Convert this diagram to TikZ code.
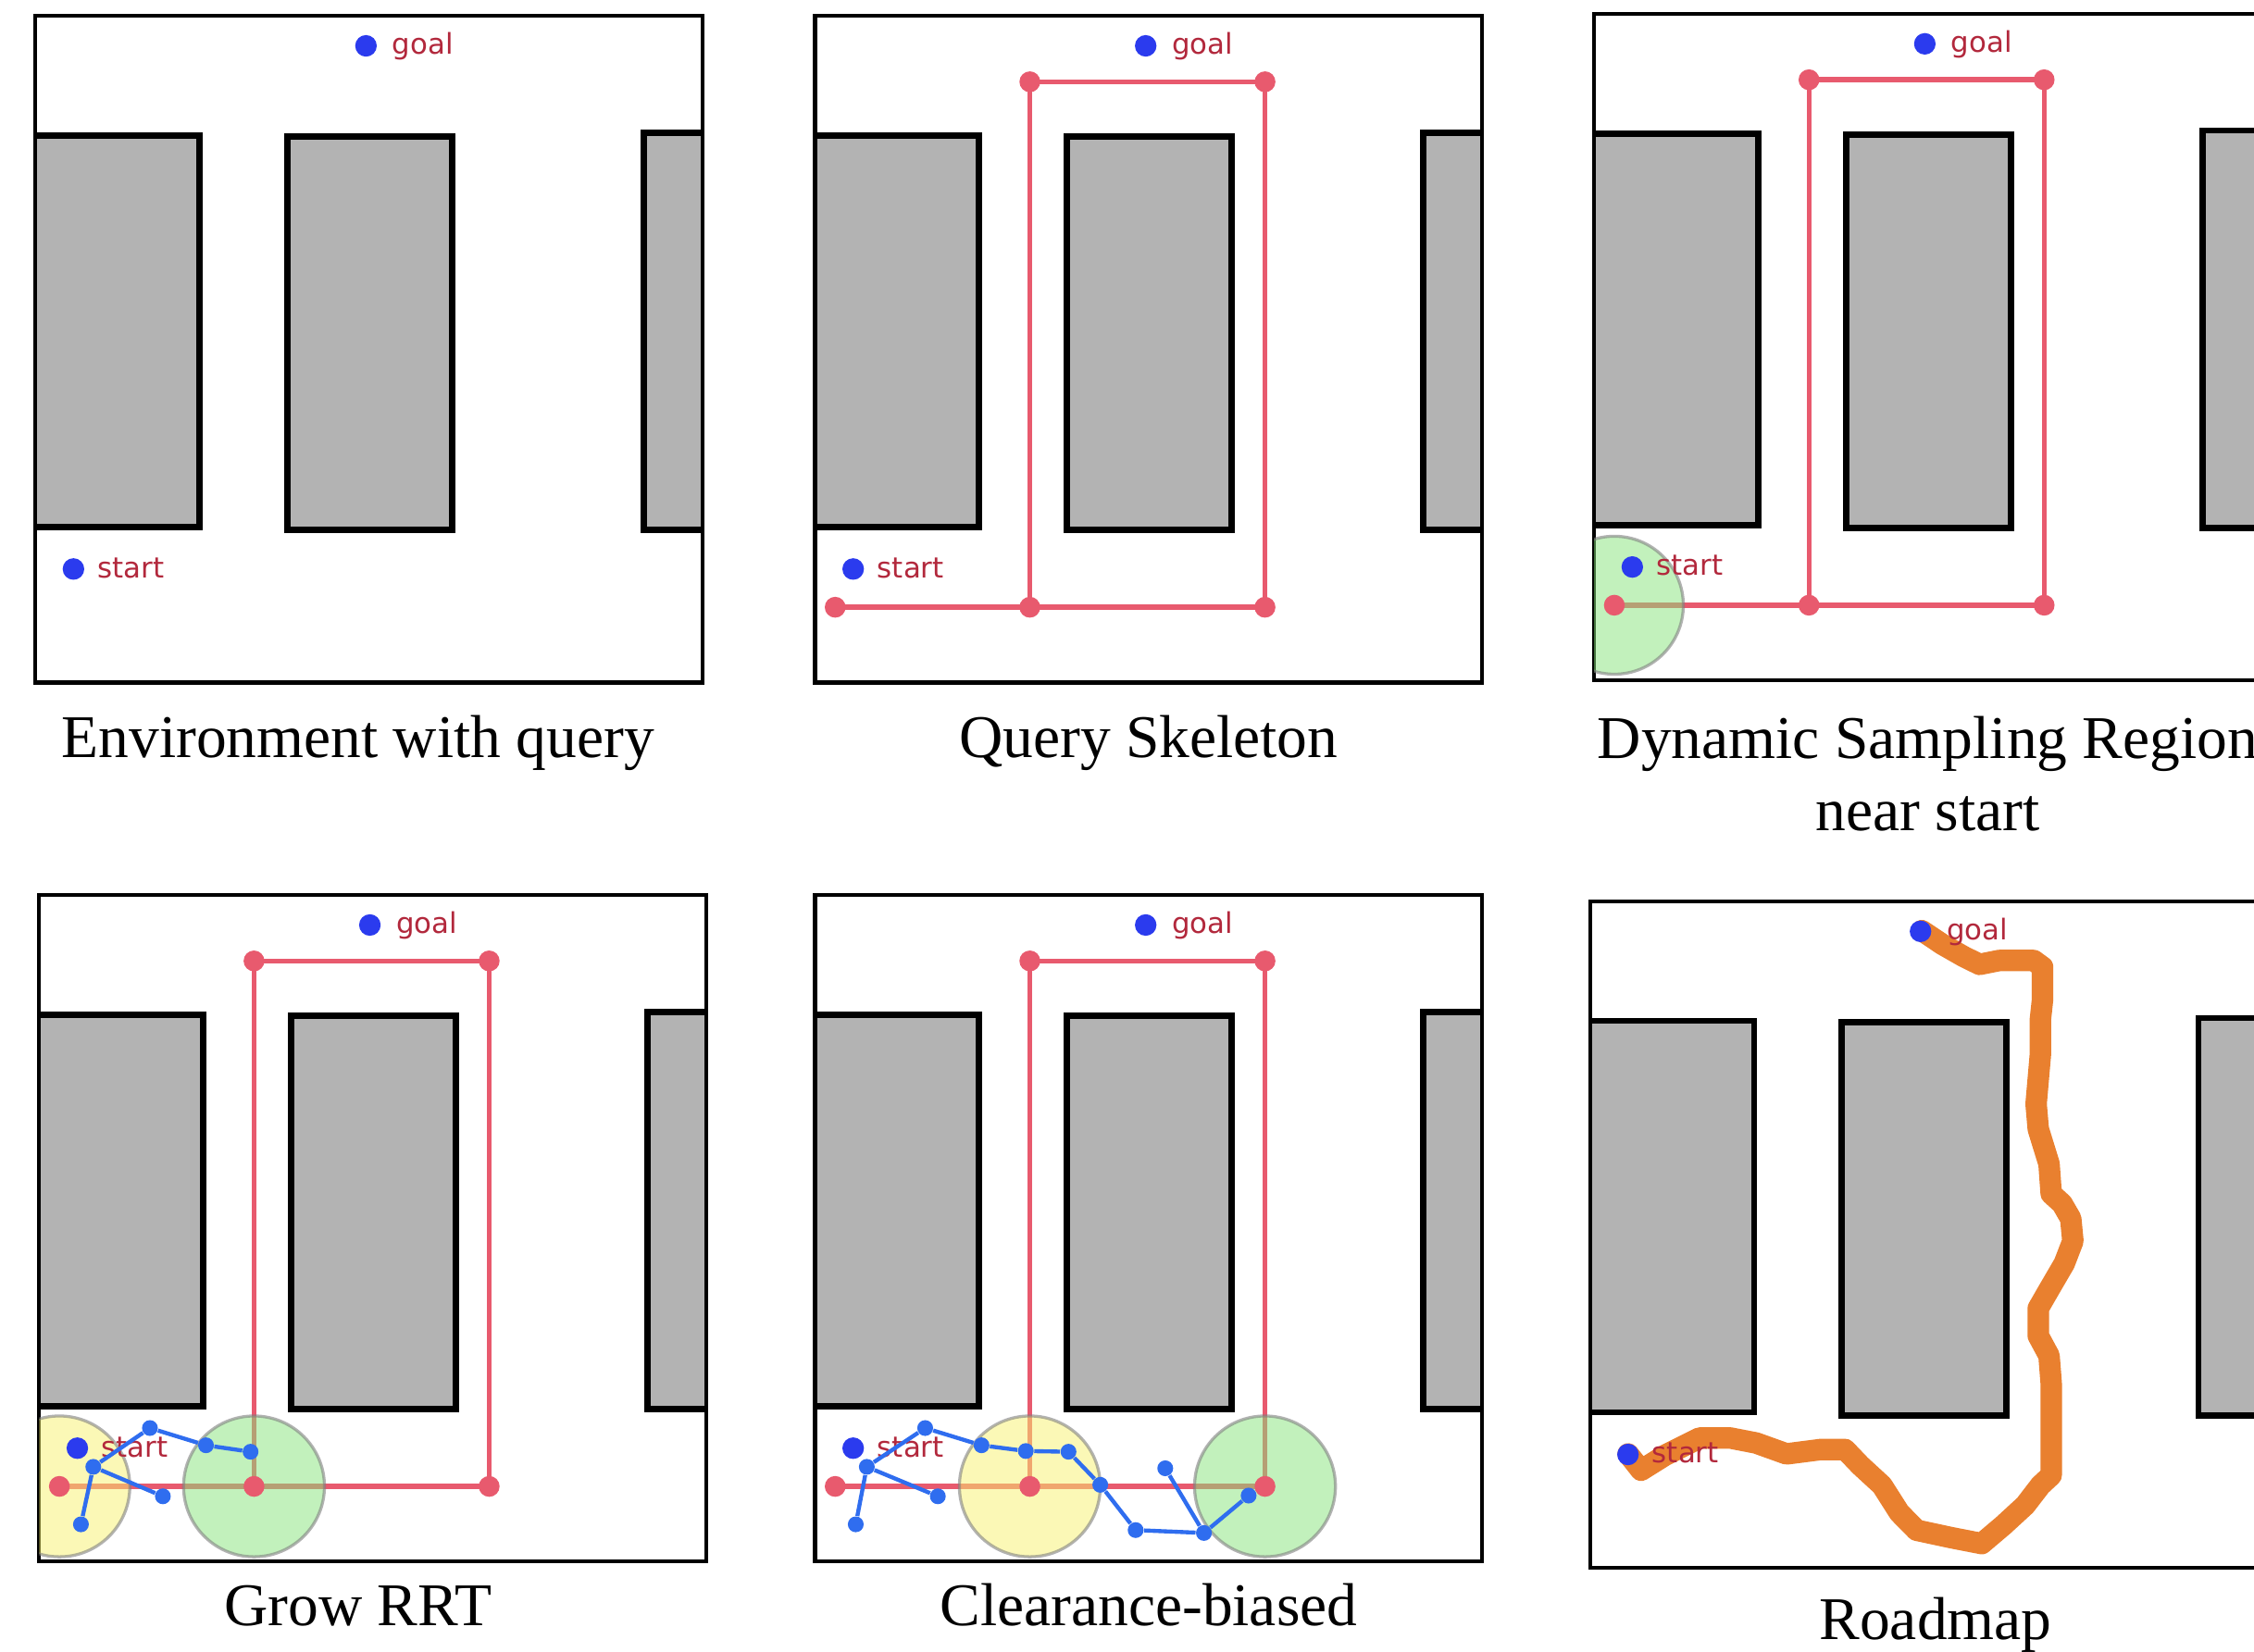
\documentclass[tikz,border=0pt]{standalone}
\usepackage{fontspec}
\setmainfont{Liberation Serif}
\newfontfamily\labelfont{DejaVu Sans}
\usepackage{tikz}
\definecolor{obstgray}{HTML}{B3B3B3}
\definecolor{querydot}{HTML}{2B3BEE}
\definecolor{querytext}{HTML}{B2283C}
\definecolor{skelred}{HTML}{E85A6E}
\definecolor{treeblue}{HTML}{2F6DEF}
\definecolor{pathorange}{HTML}{E9802F}
\definecolor{zonegreen}{HTML}{86E57A}
\definecolor{zoneyellow}{HTML}{F9F36E}
\pgfdeclarelayer{maps}
\pgfdeclarelayer{links}
\pgfdeclarelayer{zones}
\pgfsetlayers{maps,links,zones,main}

\begin{document}
\begin{tikzpicture}[
  x=0.2mm, y=-0.2mm,
  mapframe/.style={draw=black,line width=1.5pt},
  obst/.style={draw=black,fill=obstgray,line width=2.5pt},
  qdot/.style={circle,fill=querydot,inner sep=0pt,minimum size=3mm},
  qlabel/.style={font=\labelfont\fontsize{11.3}{13}\selectfont,text=querytext,
                 inner sep=0pt,anchor=base west},
  skel/.style={draw=skelred,line width=2pt},
  skelnode/.style={circle,fill=skelred,inner sep=0pt,minimum size=2.9mm},
  zone/.style={draw=gray,draw opacity=0.6,line width=1.2pt,fill opacity=0.5},
  greenzone/.style={zone,fill=zonegreen},
  yellowzone/.style={zone,fill=zoneyellow},
  rrtedge/.style={draw=treeblue,line width=1.6pt},
  rrtnode/.style={circle,fill=treeblue,inner sep=0pt,minimum size=2.2mm},
  road/.style={draw=pathorange,line width=8.5pt,line cap=round,line join=round},
  panelcap/.style={font=\fontsize{24}{28.8}\selectfont,inner sep=0pt,anchor=base},
  envmap/.pic={
    \begin{pgfonlayer}{maps}
      \fill[white] (0,0) rectangle (464,464);
      \begin{scope}
        \clip (0,0) rectangle (464,464);
        \draw[obst] (-6,83.3) rectangle (114.2,355.7);
        \draw[obst] (175.3,84.3) rectangle (289.7,357.7);
        \draw[obst] (423.3,81.3) rectangle (470,357.7);
      \end{scope}
      \draw[mapframe] (0,0) rectangle (464,464);
    \end{pgfonlayer}
  },
  query/.pic={
    \node[qdot] (-goal) at (230,21) {};
    \node[qlabel] (-goaltext) at (248,27) {goal};
    \node[qdot] (-start) at (26.5,385) {};
    \node[qlabel] (-starttext) at (43,391) {start};
  },
  skeleton/.pic={
    \node[skelnode] (-L)  at (14,411.6) {};
    \node[skelnode] (-J)  at (149.4,411.6) {};
    \node[skelnode] (-BR) at (313,411.6) {};
    \node[skelnode] (-TL) at (149.4,46) {};
    \node[skelnode] (-TR) at (313,46) {};
    \begin{pgfonlayer}{links}
      \draw[skel] (-L.center) -- (-J.center) -- (-BR.center) -- (-TR.center)
                  -- (-TL.center) -- (-J.center);
    \end{pgfonlayer}
  },
]
\useasboundingbox (0,0) rectangle (1568,1149);
\clip (0,0) rectangle (1568,1149);

% ---- Environment with query
\begin{scope}[shift={(24.6,10.9)}]
  \pic {envmap};
  \pic (q1) {query};
\end{scope}

% ---- Query skeleton
\begin{scope}[shift={(567,10.9)}]
  \pic {envmap};
  \pic (s2) {skeleton};
  \pic (q2) {query};
\end{scope}

% ---- Sampling region near start
\begin{scope}[shift={(1109,9.5)}]
  \pic {envmap};
  \pic (s3) {skeleton};
  \begin{pgfonlayer}{zones}
    \begin{scope}
      \clip (0,0) rectangle (464,464);
      \draw[greenzone] (s3-L) circle (9.6mm);
    \end{scope}
  \end{pgfonlayer}
  \pic (q3) {query};
\end{scope}

% ---- Grow RRT
\begin{scope}[shift={(27.3,622.6)}]
  \pic {envmap};
  \pic (s4) {skeleton};
  \begin{pgfonlayer}{zones}
    \begin{scope}
      \clip (0,0) rectangle (464,464);
      \draw[yellowzone] (s4-L) circle (9.8mm);
      \draw[greenzone] (s4-J) circle (9.8mm);
    \end{scope}
  \end{pgfonlayer}
  \pic (q4) {query};
  \node[rrtnode] (t4a) at (77,371) {};
  \node[rrtnode] (t4b) at (116,383) {};
  \node[rrtnode] (t4c) at (147,387.5) {};
  \node[rrtnode] (t4d) at (37.6,398) {};
  \node[rrtnode] (t4e) at (86,418.5) {};
  \node[rrtnode] (t4f) at (29,438) {};
  \draw[rrtedge] (t4d) -- (t4a) -- (t4b) -- (t4c);
  \draw[rrtedge] (t4e) -- (t4d) -- (t4f);
\end{scope}

% ---- Clearance-biased
\begin{scope}[shift={(567,622.6)}]
  \pic {envmap};
  \pic (s5) {skeleton};
  \begin{pgfonlayer}{zones}
    \begin{scope}
      \clip (0,0) rectangle (464,464);
      \draw[yellowzone] (s5-J) circle (9.8mm);
      \draw[greenzone] (s5-BR) circle (9.8mm);
    \end{scope}
  \end{pgfonlayer}
  \pic (q5) {query};
  \node[rrtnode] (t5a) at (76.6,371) {};
  \node[rrtnode] (t5b) at (115.8,383) {};
  \node[rrtnode] (t5c) at (146.6,387) {};
  \node[rrtnode] (t5d) at (36,398) {};
  \node[rrtnode] (t5e) at (85.4,418.5) {};
  \node[rrtnode] (t5f) at (28.3,438) {};
  \node[rrtnode] (t5g) at (176.3,387.5) {};
  \node[rrtnode] (t5h) at (198.4,410.5) {};
  \node[rrtnode] (t5i) at (223,442) {};
  \node[rrtnode] (t5j) at (270.5,444) {};
  \node[rrtnode] (t5k) at (243.6,399) {};
  \node[rrtnode] (t5l) at (301.6,418) {};
  \draw[rrtedge] (t5d) -- (t5a) -- (t5b) -- (t5c) -- (t5g) -- (t5h)
                 -- (t5i) -- (t5j) -- (t5l);
  \draw[rrtedge] (t5k) -- (t5j);
  \draw[rrtedge] (t5e) -- (t5d) -- (t5f);
\end{scope}

% ---- Roadmap
\begin{scope}[shift={(1106,627)}]
  \pic {envmap};
  \coordinate (r6-s) at (26.6,384.6);
  \coordinate (r6-g) at (230.9,20.5);
  \draw[road] (r6-s) -- (35.6,396) -- (52.2,385.6) -- (76.4,373.5)
    -- (97.5,373.5) -- (115.6,377) -- (136.8,384.6) -- (160.9,381.5)
    -- (177.5,381.5) -- (188.1,392.6) -- (203.2,406.5) -- (215.3,425.5)
    -- (227.3,437.7) -- (251.5,442.9) -- (272.6,447) -- (287.7,434.2)
    -- (302.8,420.3) -- (313.4,406.5) -- (320.9,399.5) -- (320.9,335.4)
    -- (319.4,316.3) -- (311.9,302.4) -- (311.9,283.3) -- (320.9,267.7)
    -- (330,252.1) -- (336,236.5) -- (334.5,220.9) -- (328.5,210.5)
    -- (320.9,203.6) -- (319.4,182.8) -- (311.9,158.5) -- (310.4,141.1)
    -- (311.9,123.8) -- (313.4,106.5) -- (313.4,82.2) -- (314.9,68.3)
    -- (314.9,45.8) -- (308.8,41.3) -- (284.7,41.3) -- (271.1,44)
    -- (260.5,38.8) -- (245.4,30.2) -- (r6-g);
  \pic (q6) {query};
\end{scope}

% ---- Captions
\node[panelcap] (cap1) at (249,527) {Environment with query};
\node[panelcap] (cap2) at (799,527) {Query Skeleton};
\node[panelcap,anchor=north,align=center] (cap3) at (1341,498)
     {Dynamic Sampling Region\\near start};
\node[panelcap] (cap4) at (249,1131) {Grow RRT};
\node[panelcap] (cap5) at (799,1131) {Clearance-biased};
\node[panelcap] (cap6) at (1346.5,1141) {Roadmap};

\end{tikzpicture}
\end{document}
